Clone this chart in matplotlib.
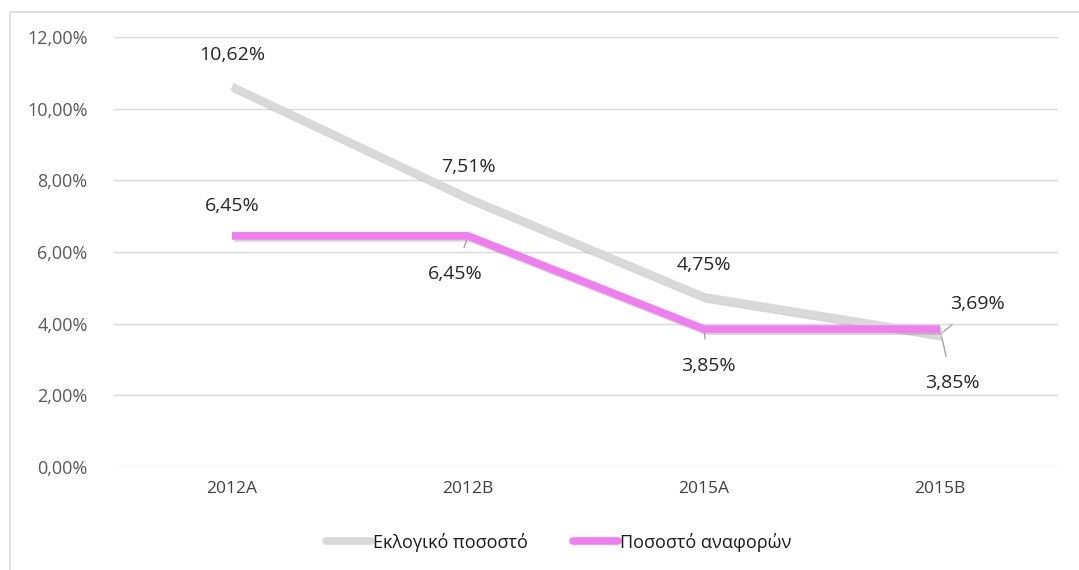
import matplotlib.pyplot as plt
import matplotlib.patheffects as pe
from matplotlib.patches import Rectangle

plt.rcParams['font.family'] = ['Open Sans', 'DejaVu Sans']

categories = ['2012A', '2012B', '2015A', '2015B']
electoral = [10.62, 7.51, 4.75, 3.69]
mentions = [6.45, 6.45, 3.85, 3.85]
yticks = [0, 2, 4, 6, 8, 10, 12]

grey = '#d9d9d9'
pink = '#f07ef0'

fig = plt.figure(figsize=(10.79, 5.70), dpi=100)
fig.patches.append(Rectangle((10 / 1079, -0.1), 1.2, 1 - 12 / 570 + 0.1, transform=fig.transFigure,
                             fill=False, edgecolor='#d9d9d9', linewidth=1.2))
ax = fig.add_axes([114 / 1079, 1 - 467 / 570, 944 / 1079, 430 / 570])

x = range(len(categories))
shadow = [pe.SimpleLineShadow(offset=(1.5, -1.5), shadow_color='#888888', alpha=0.35), pe.Normal()]
ax.plot(x, electoral, color=grey, linewidth=5.5, solid_joinstyle='miter', solid_capstyle='butt',
        path_effects=shadow, label='Εκλογικό ποσοστό', zorder=3)
ax.plot(x, mentions, color=pink, linewidth=5.5, solid_joinstyle='miter', solid_capstyle='butt',
        path_effects=shadow, label='Ποσοστό αναφορών', zorder=4)

ax.set_xlim(-0.5, 3.5)
ax.set_ylim(0, 12)
ax.set_yticks(yticks)
ax.set_yticklabels(['%d,00%%' % v for v in yticks])
ax.set_xticks(list(x))
ax.set_xticklabels(categories)
ax.grid(axis='y', color='#d9d9d9', linewidth=1)
ax.set_axisbelow(True)
for s in ax.spines.values():
    s.set_visible(False)
ax.tick_params(axis='x', length=0, labelsize=12.5, colors='#404040', pad=10)
ax.tick_params(axis='y', length=0, labelsize=13, colors='#595959', pad=19)

def fmt(v):
    return ('%.2f%%' % v).replace('.', ',')

lab = dict(fontsize=14, color='#262626', ha='center', va='center')
lead = dict(arrowstyle='-', color='#a6a6a6', lw=1)
# electoral labels (above)
ax.annotate(fmt(electoral[0]), (0, electoral[0]), xytext=(0, 31), textcoords='offset pixels', **lab)
ax.annotate(fmt(electoral[1]), (1, electoral[1]), xytext=(0, 31), textcoords='offset pixels', **lab)
ax.annotate(fmt(electoral[2]), (2, electoral[2]), xytext=(0, 32), textcoords='offset pixels', **lab)
ax.annotate(fmt(electoral[3]), (3, electoral[3]), xytext=(37, 31), textcoords='offset pixels',
            arrowprops=dict(shrinkA=10, shrinkB=3, **lead), **lab)
# mentions labels
ax.annotate(fmt(mentions[0]), (0, mentions[0]), xytext=(0, 30), textcoords='offset pixels', **lab)
ax.annotate(fmt(mentions[1]), (1, mentions[1]), xytext=(-13, -38), textcoords='offset pixels',
            arrowprops=dict(shrinkA=11, shrinkB=3, **lead), **lab)
ax.annotate(fmt(mentions[2]), (2, mentions[2]), xytext=(4, -37), textcoords='offset pixels',
            arrowprops=dict(shrinkA=11, shrinkB=3, **lead), **lab)
ax.annotate(fmt(mentions[3]), (3, mentions[3]), xytext=(12, -54), textcoords='offset pixels',
            arrowprops=dict(shrinkA=11, shrinkB=6, **lead), **lab)

leg = fig.legend(loc='center', bbox_to_anchor=(0.518, 1 - 542 / 570), ncol=2, frameon=False,
                 fontsize=13, handlelength=2.5, handletextpad=0.1, columnspacing=2.5)
for h in leg.get_lines():
    h.set_linewidth(5.5)
    h.set_path_effects([])
    h.set_solid_capstyle('round')
for t in leg.get_texts():
    t.set_color('#1a1a1a')

fig.savefig('out.png', dpi=100)
